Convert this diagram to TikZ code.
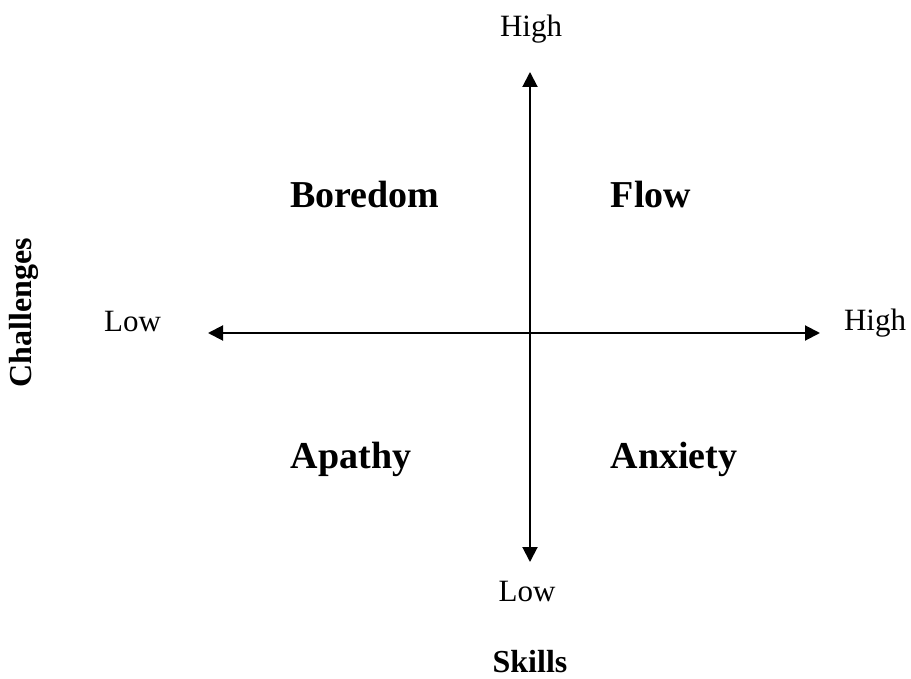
\documentclass[tikz,border=0pt]{standalone}
\usepackage{fontspec}
\setmainfont{Liberation Serif}
\usetikzlibrary{arrows.meta}
\begin{document}
\begin{tikzpicture}[x=1pt,y=-1pt,
  lab/.style={font=\fontsize{31}{37}\selectfont, inner sep=0pt},
  quad/.style={font=\fontsize{38}{44}\selectfont\bfseries, inner sep=0pt},
  axtitle/.style={font=\fontsize{32}{38}\selectfont\bfseries, inner sep=0pt},
  axis/.style={line width=2pt, -{Triangle[length=15pt,width=15pt]}}]
\useasboundingbox (0,0) rectangle (911,679);
\coordinate (o) at (530,333);
\coordinate (top) at (530,72);
\coordinate (bot) at (530,562);
\coordinate (lft) at (208,333);
\coordinate (rgt) at (820,333);
\draw[axis] (o) -- (top);
\draw[axis] (o) -- (bot);
\draw[axis] (o) -- (lft);
\draw[axis] (o) -- (rgt);
\node[lab] (hightop) at (531,29.5) {High};
\node[lab] (lowbot) at (527,592) {Low};
\node[lab] (lowleft) at (132.5,321.5) {Low};
\node[lab] (highright) at (875,323.5) {High};
\node[axtitle] (skills) at (530,662) {Skills};
\node[axtitle, rotate=90] (chall) at (24,313) {Challenges};
\node[quad] (boredom) at (365,195) {Boredom};
\node[quad] (flow) at (651,195) {Flow};
\node[quad] (apathy) at (351,459) {Apathy};
\node[quad] (anxiety) at (674,459) {Anxiety};
\end{tikzpicture}
\end{document}
